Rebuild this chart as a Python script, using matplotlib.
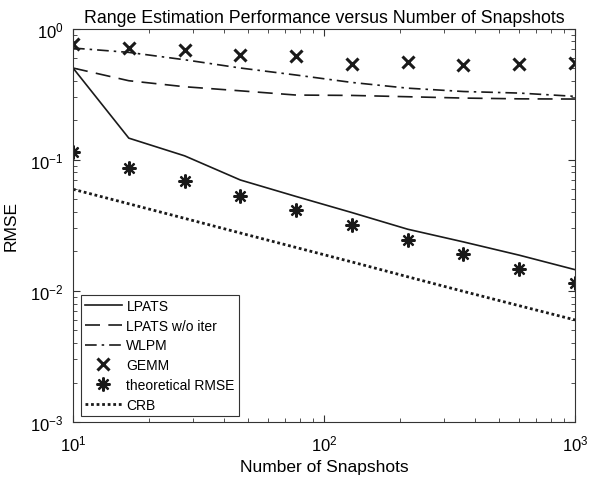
import numpy as np
import matplotlib.pyplot as plt

plt.rcParams['font.family'] = ['Liberation Sans', 'DejaVu Sans']

# snapshot counts (log spaced, 10 .. 1000)
snapshots = [10, 16.68, 27.83, 46.42, 77.43, 129.2, 215.4, 359.4, 599.5, 1000]

lpats = [0.50, 0.146, 0.107, 0.070, 0.0524, 0.0395, 0.0295, 0.0236, 0.0187, 0.0145]
lpats_noiter = [0.50, 0.40, 0.36, 0.335, 0.311, 0.309, 0.302, 0.295, 0.291, 0.290]
wlpm = [0.71, 0.658, 0.578, 0.50, 0.442, 0.388, 0.351, 0.331, 0.322, 0.304]
gemm = [0.76, 0.706, 0.685, 0.631, 0.620, 0.536, 0.552, 0.524, 0.539, 0.545]
theory = [0.1147, 0.087, 0.0689, 0.0526, 0.0414, 0.0316, 0.0244, 0.0191, 0.0148, 0.0115]
crb = [0.0595, 0.0461, 0.0357, 0.0276, 0.0214, 0.0166, 0.0128, 0.0099, 0.0077, 0.0060]

fig = plt.figure(figsize=(6.1, 4.81), dpi=100)
ax = fig.add_axes([0.1197, 0.1206, 0.823, 0.818])

k = '#1a1a1a'
ax.loglog(snapshots, lpats, '-', color=k, lw=1.2, label='LPATS')
ax.loglog(snapshots, lpats_noiter, color=k, lw=1.2, dashes=(9, 5), label='LPATS w/o iter')
ax.loglog(snapshots, wlpm, color=k, lw=1.2, dashes=(7, 3, 1.5, 3), label='WLPM')
ax.loglog(snapshots, gemm, 'x', color=k, ms=8, mew=2.2, label='GEMM')
ax.loglog(snapshots, theory, ls='none', marker=(8, 2, 0), color=k, ms=10, mew=1.6,
          label='theoretical RMSE')
ax.loglog(snapshots, crb, color=k, lw=2.0, dashes=(1, 1), label='CRB')

ax.set_xlim(10, 1000)
ax.set_ylim(1e-3, 1)
ax.tick_params(which='both', direction='in', top=True, right=True, colors='#333333',
               labelcolor='black', labelsize=12)
ax.tick_params(axis='x', which='major', length=5, pad=8)
ax.tick_params(axis='y', which='major', length=5, pad=7)
ax.tick_params(which='minor', length=3)
for s in ax.spines.values():
    s.set_color('#333333')
    s.set_linewidth(0.8)

ax.set_title('Range Estimation Performance versus Number of Snapshots', fontsize=12.8, pad=5)
ax.set_xlabel('Number of Snapshots', fontsize=12.5, labelpad=4)
ax.set_ylabel('RMSE', fontsize=12.5, labelpad=8)

leg = ax.legend(loc='lower left', bbox_to_anchor=(0.015, 0.015), fontsize=10,
                frameon=True, fancybox=False, edgecolor='#333333', framealpha=1,
                handlelength=2.7, handletextpad=0.3, labelspacing=0.42, borderpad=0.3,
                borderaxespad=0)
leg.get_frame().set_linewidth(0.8)

fig.savefig('out.png', dpi=100)
